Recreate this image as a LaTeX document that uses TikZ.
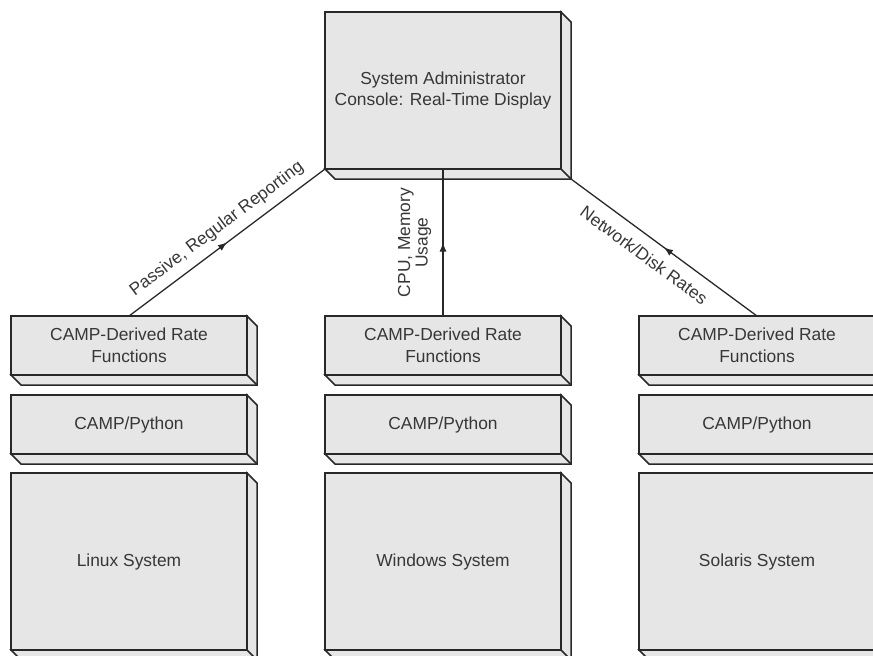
\documentclass[tikz,border=0pt]{standalone}
\usepackage{fontspec}
\setmainfont{Liberation Sans}
\usepackage{tikz}
\usetikzlibrary{arrows.meta,positioning,calc,decorations.markings}
\definecolor{slabgray}{RGB}{230,230,230}
\definecolor{edgegray}{RGB}{40,40,40}
\definecolor{textgray}{RGB}{55,55,55}
\tikzset{
  slab/.style={draw=edgegray, fill=slabgray, line width=1.5pt, outer sep=0pt,
               align=center, minimum width=236pt, minimum height=59pt,
               inner sep=3pt, text=textgray, font=\fontsize{17.4}{21.5}\selectfont},
  depth/.style={draw=edgegray, fill=slabgray, line width=1.5pt, line join=miter},
  link/.style={draw=edgegray, line width=1.3pt, postaction={decorate},
               decoration={markings,
                 mark=at position 0.5 with {\arrow{Latex[length=9pt,width=7pt]}}}},
  linklabel/.style={text=textgray, align=center, inner sep=2pt,
                    font=\fontsize{17.4}{17.5}\selectfont}
}
\begin{document}
\begin{tikzpicture}[x=1pt, y=1pt, node distance=20pt]
  \useasboundingbox (0,0) rectangle (873,-656);
  % console on top
  \node[slab, minimum height=157pt] (admin) at (443,-90.5)
    {System Administrator\\Console: Real-Time Display};
  % middle stack
  \node[slab, below=147pt of admin] (ratemid) {CAMP-Derived Rate\\Functions};
  \node[slab, below=20pt of ratemid] (pymid) {CAMP/Python};
  \node[slab, below=19pt of pymid, minimum height=177pt] (sysmid) {Windows System};
  % left stack
  \node[slab, left=78pt of ratemid] (rateleft) {CAMP-Derived Rate\\Functions};
  \node[slab, below=20pt of rateleft] (pyleft) {CAMP/Python};
  \node[slab, below=19pt of pyleft, minimum height=177pt] (sysleft) {Linux System};
  % right stack
  \node[slab, right=78pt of ratemid] (rateright) {CAMP-Derived Rate\\Functions};
  \node[slab, below=20pt of rateright] (pyright) {CAMP/Python};
  \node[slab, below=19pt of pyright, minimum height=177pt] (sysright) {Solaris System};
  % slab depth
  \foreach \n in {admin,rateleft,pyleft,sysleft,ratemid,pymid,sysmid,rateright,pyright,sysright} {
    \draw[depth] (\n.north east) -- ++(10,-10) |- ($(\n.south west)+(10,-10)$)
      -- (\n.south west) -- (\n.south east) -- cycle;
    \draw[depth] (\n.south east) -- ++(10,-10);
  }
  \coordinate (admincorner) at ($(admin.south east)+(10,-10)$);
  % reporting links
  \draw[link] (rateleft.north) -- (admin.south west)
    node[linklabel, midway, above=6pt, sloped] {Passive, Regular Reporting};
  \draw[link] (ratemid.north) -- (admin.south)
    node[linklabel, midway, above=9pt, sloped] {CPU, Memory\\Usage};
  \draw[link] (rateright.north) -- (admincorner)
    node[linklabel, pos=0.55, below=9pt, sloped] {Network/Disk Rates};
\end{tikzpicture}
\end{document}
